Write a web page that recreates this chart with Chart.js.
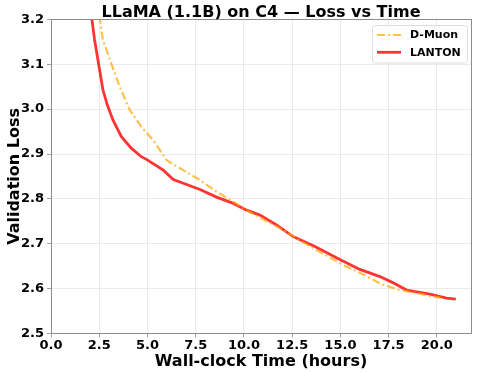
<!DOCTYPE html>
<html>
<head>
<meta charset="utf-8">
<script src="https://cdn.jsdelivr.net/npm/chart.js@4"></script>
<style>
html,body{margin:0;padding:0;background:#fff;}
#wrap{width:478px;height:373px;position:relative;}
</style>
</head>
<body>
<div id="wrap"><canvas id="c" width="478" height="373"></canvas></div>
<script>
const chartTitle = "LLaMA (1.1B) on C4 \u2014 Loss vs Time";
const xTitle = "Wall-clock Time (hours)";
const yTitle = "Validation Loss";
const seriesNames = ["D-Muon", "LANTON"];
const xTicks = [0, 2.5, 5, 7.5, 10, 12.5, 15, 17.5, 20];
const yTicks = [2.5, 2.6, 2.7, 2.8, 2.9, 3.0, 3.1, 3.2];

const dmuonTime = [2.40, 2.69, 3.12, 3.56, 4.08, 4.68, 5.37, 5.99, 6.85, 7.72, 8.58, 9.45, 9.96, 10.90, 11.87, 12.73, 13.77, 15.15, 16.36, 17.13, 17.56, 18.08, 18.25, 19.10, 19.81, 20.20];
const dmuonLoss = [3.243, 3.154, 3.102, 3.050, 2.998, 2.961, 2.927, 2.886, 2.864, 2.842, 2.816, 2.794, 2.779, 2.757, 2.735, 2.712, 2.686, 2.653, 2.628, 2.610, 2.604, 2.597, 2.596, 2.589, 2.582, 2.580];

const lantonTime = [2.00, 2.26, 2.52, 2.69, 2.92, 3.21, 3.64, 4.16, 4.68, 4.99, 5.13, 5.82, 6.34, 7.03, 7.72, 8.58, 9.45, 10.14, 10.83, 11.69, 12.55, 13.68, 14.97, 16.01, 17.05, 17.74, 18.43, 19.64, 20.50, 20.98];
const lantonLoss = [3.240, 3.154, 3.087, 3.043, 3.009, 2.976, 2.939, 2.913, 2.894, 2.887, 2.883, 2.864, 2.843, 2.832, 2.821, 2.804, 2.790, 2.775, 2.764, 2.742, 2.716, 2.694, 2.665, 2.643, 2.627, 2.613, 2.597, 2.588, 2.579, 2.577];

const FONT = "'DejaVu Sans', sans-serif";
const toPts = (xs, ys) => xs.map((x, i) => ({x: x, y: ys[i]}));

const titlePlugin = {
  id: 'mplTitle',
  afterDraw(chart) {
    const ctx = chart.ctx, a = chart.chartArea;
    ctx.save();
    ctx.font = "bold 16px " + FONT;
    ctx.fillStyle = '#000';
    ctx.textAlign = 'center';
    ctx.textBaseline = 'alphabetic';
    ctx.fillText(chartTitle, (a.left + a.right) / 2, 17);
    ctx.restore();
  }
};

const framePlugin = {
  id: 'frame',
  afterDatasetsDraw(chart) {
    const ctx = chart.ctx, a = chart.chartArea;
    ctx.save();
    ctx.strokeStyle = '#8c8c8c';
    ctx.lineWidth = 1;
    ctx.strokeRect(Math.round(a.left) + 0.5, Math.round(a.top) + 0.5, Math.round(a.right - a.left), Math.round(a.bottom - a.top));
    ctx.restore();
  }
};

const legendPlugin = {
  id: 'mplLegend',
  afterDraw(chart) {
    const ctx = chart.ctx;
    const bx = 372.5, by = 25.5, bw = 95, bh = 37.5;
    ctx.save();
    ctx.fillStyle = 'rgba(255,255,255,0.8)';
    ctx.strokeStyle = '#dddddd';
    ctx.lineWidth = 1;
    ctx.beginPath();
    ctx.roundRect(bx, by, bw, bh, 3);
    ctx.fill();
    ctx.stroke();
    const rows = [35, 52.3];
    chart.data.datasets.forEach((ds, i) => {
      const y = rows[i];
      ctx.strokeStyle = ds.borderColor;
      ctx.lineWidth = ds.borderWidth;
      ctx.setLineDash(ds.borderDash || []);
      ctx.beginPath();
      ctx.moveTo(377, y);
      ctx.lineTo(401, y);
      ctx.stroke();
      ctx.setLineDash([]);
      ctx.fillStyle = '#000';
      ctx.font = "bold 11px " + FONT;
      ctx.textAlign = 'left';
      ctx.textBaseline = 'middle';
      ctx.fillText(ds.label, 410, y + 0.5);
    });
    ctx.restore();
  }
};

new Chart(document.getElementById('c'), {
  type: 'line',
  data: {
    datasets: [
      {
        label: seriesNames[0],
        data: toPts(dmuonTime, dmuonLoss),
        borderColor: 'rgba(255,165,0,0.7)',
        borderWidth: 2.2,
        borderDash: [8, 3, 2, 3],
        pointRadius: 0,
        tension: 0,
        fill: false,
        clip: 0
      },
      {
        label: seriesNames[1],
        data: toPts(lantonTime, lantonLoss),
        borderColor: 'rgba(255,0,0,0.8)',
        borderWidth: 2.8,
        pointRadius: 0,
        tension: 0,
        fill: false,
        clip: 0
      }
    ]
  },
  options: {
    responsive: false,
    animation: false,
    devicePixelRatio: 1,
    layout: {padding: {top: 19.3, right: 7, left: 0, bottom: 0}},
    plugins: {legend: {display: false}, title: {display: false}, tooltip: {enabled: false}},
    scales: {
      x: {
        type: 'linear',
        min: 0,
        max: 21.77,
        afterBuildTicks: s => { s.ticks = xTicks.map(v => ({value: v})); },
        afterFit: s => { s.height = 39.4; },
        ticks: {
          color: '#000',
          font: {family: FONT, size: 13, weight: 'bold'},
          padding: 0,
          maxRotation: 0,
          autoSkip: false,
          callback: v => Number(v).toFixed(1)
        },
        grid: {color: '#e6e6e6', lineWidth: 0.8, tickLength: 4, tickColor: '#8c8c8c', drawTicks: true},
        border: {display: true, color: '#8c8c8c', width: 1},
        title: {display: true, text: xTitle, color: '#000', font: {family: FONT, size: 16, weight: 'bold'}, padding: {top: 0, bottom: 2}}
      },
      y: {
        type: 'linear',
        min: 2.5,
        max: 3.2,
        afterBuildTicks: s => { s.ticks = yTicks.map(v => ({value: v})); },
        afterFit: s => { s.width = 51; },
        ticks: {
          color: '#000',
          font: {family: FONT, size: 13, weight: 'bold'},
          padding: 3,
          autoSkip: false,
          callback: v => Number(v).toFixed(1)
        },
        grid: {color: '#e6e6e6', lineWidth: 0.8, tickLength: 4, tickColor: '#8c8c8c', drawTicks: true},
        border: {display: true, color: '#8c8c8c', width: 1},
        title: {display: true, text: yTitle, color: '#000', font: {family: FONT, size: 16, weight: 'bold'}, padding: {top: 5, bottom: 0}}
      }
    }
  },
  plugins: [titlePlugin, framePlugin, legendPlugin]
});
</script>
</body>
</html>
